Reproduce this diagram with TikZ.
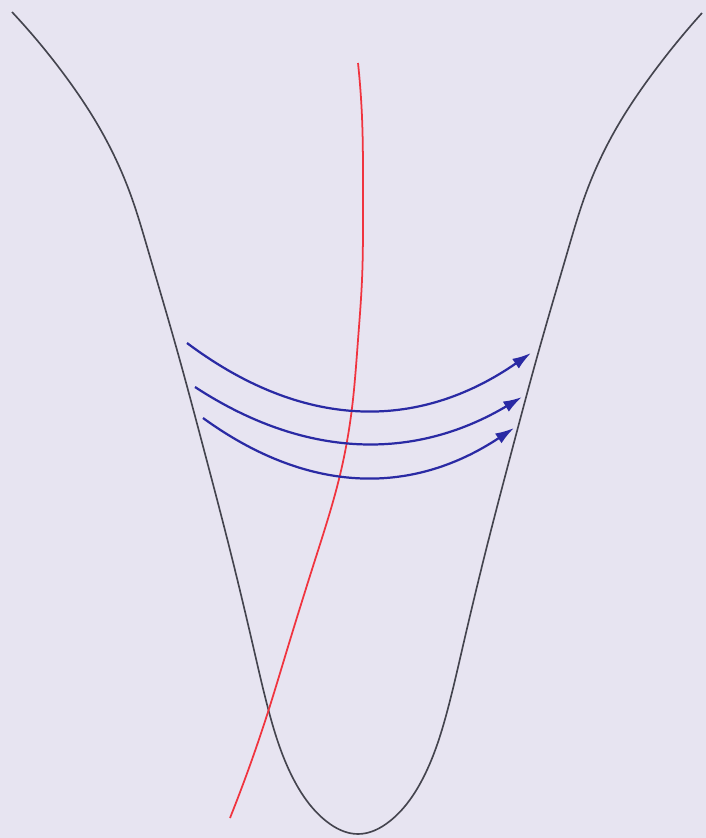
\documentclass[tikz,border=0pt]{standalone}
\usetikzlibrary{arrows.meta,hobby}
\definecolor{bgc}{HTML}{E7E4F1}
\definecolor{wellc}{HTML}{44444E}
\definecolor{redc}{HTML}{F0343F}
\definecolor{bluec}{HTML}{2A2AA4}
\tikzset{
  well/.style={draw=wellc, line width=1.4pt},
  path line/.style={draw=redc, line width=1.5pt},
  flow/.style={draw=bluec, line width=1.9pt, -{Latex[length=16pt,width=10pt]}},
}
\begin{document}
\begin{tikzpicture}[x=0.03cm,y=-0.03cm]
\fill[bgc] (0,0) rectangle (706,838);
\useasboundingbox (0,0) rectangle (706,838);
% potential well
\draw[well, use Hobby shortcut]
 (12,12) .. (66,77) .. (99,127) .. (130,193) .. (148,250) .. (177,350) .. (204,450)
 .. (230,550) .. (254,650) .. (269,712) .. (295,782) .. (326,821) .. (358,834)
 .. (390,821) .. (421,782) .. (447,712) .. (462,650) .. (486,550) .. (512,450)
 .. (539,350) .. (568,250) .. (586,193) .. (617,127) .. (650,77) .. (702,13);
% red path
\draw[path line, use Hobby shortcut]
 (358,63) .. (362,117) .. (363,200) .. (362,280) .. (358,340) .. (352,408)
 .. (340,475) .. (315,560) .. (287,650) .. (268,712) .. (230,818);
% blue arrows
\coordinate (a1s) at (187,343); \coordinate (a1e) at (531,353);
\coordinate (a2s) at (195,387); \coordinate (a2e) at (522,397);
\coordinate (a3s) at (203,418); \coordinate (a3e) at (514,428);
\draw[flow] (a1s) .. controls (301.7,429) and (416.3,432.3) .. (a1e);
\draw[flow] (a2s) .. controls (304,458.3) and (413,461.7) .. (a2e);
\draw[flow] (a3s) .. controls (306.7,493.3) and (410.3,496.7) .. (a3e);
\end{tikzpicture}
\end{document}
